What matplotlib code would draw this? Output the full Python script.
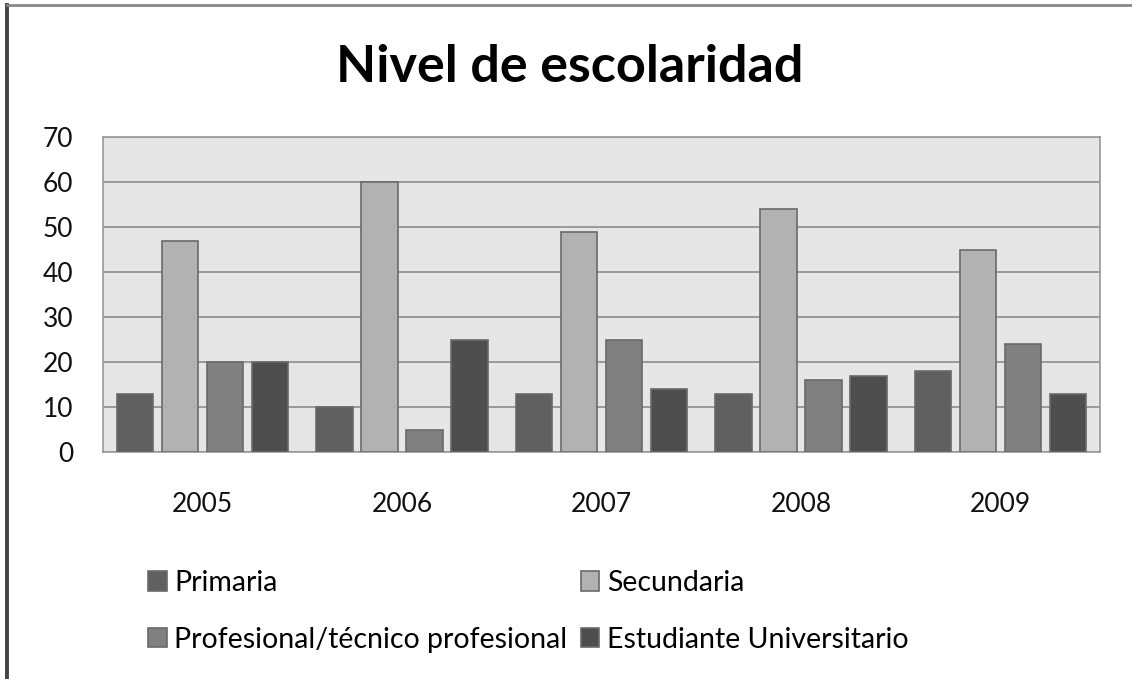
import numpy as np
import matplotlib
matplotlib.use("Agg")
import matplotlib.pyplot as plt
from matplotlib.lines import Line2D

plt.rcParams['font.family'] = ['Lato', 'DejaVu Sans']

years = ['2005', '2006', '2007', '2008', '2009']
series_names = ['Primaria', 'Secundaria', 'Profesional/técnico profesional', 'Estudiante Universitario']
primaria = [13, 10, 13, 13, 18]
secundaria = [47, 60, 49, 54, 45]
profesional = [20, 5, 25, 16, 24]
universitario = [20, 25, 14, 17, 13]
series = [primaria, secundaria, profesional, universitario]
colors = ['#606060', '#b2b2b2', '#808080', '#4e4e4e']

W, H = 1132, 679
fig = plt.figure(figsize=(W / 100, H / 100), dpi=100)
ax = fig.add_axes([103 / W, 1 - 452 / H, 997 / W, 315 / H])

# outer chart frame: only the left and top edges show in the original
fig.add_artist(Line2D([7 / W, 7 / W], [0, 1 - 5 / H], transform=fig.transFigure,
                      color='#444444', linewidth=2.8))
fig.add_artist(Line2D([7 / W, 1], [1 - 5 / H, 1 - 5 / H], transform=fig.transFigure,
                      color='#888888', linewidth=2))

x = np.arange(len(years))
step = 0.2257
width = 0.183
for i, (vals, name, c) in enumerate(zip(series, series_names, colors)):
    ax.bar(x + (i - 1.5) * step, vals, width, color=c, edgecolor='#6a6a6a', linewidth=1.2,
           label=name, zorder=3)

ax.set_xlim(-0.5, 4.5)
ax.set_ylim(0, 70)
ax.set_yticks(range(0, 71, 10))
ax.set_facecolor('#e6e6e6')
ax.grid(axis='y', color='#8c8c8c', linewidth=1.2, zorder=1)
for s in ax.spines.values():
    s.set_color('#999999')
    s.set_linewidth(1.2)
ax.set_xticks(x)
ax.set_xticklabels(years)
ax.tick_params(axis='both', length=0, labelsize=19, colors='#111111')
ax.tick_params(axis='y', pad=21.5)
ax.tick_params(axis='x', pad=28.5)

fig.text(0.503, 1 - 68 / H, 'Nivel de escolaridad', ha='center', va='center',
         fontsize=37.5, fontweight='bold')

# legend reads row by row: Primaria, Secundaria / Profesional, Universitario
handles, labels = ax.get_legend_handles_labels()
order = [0, 2, 1, 3]
fig.legend([handles[k] for k in order], [labels[k] for k in order], ncol=2,
           loc='upper left', bbox_to_anchor=(148 / W, 1 - 570 / H),
           frameon=False, fontsize=20.5, handlelength=0.65, handleheight=0.65,
           handletextpad=0.28, columnspacing=0.46, labelspacing=1.08,
           borderpad=0, borderaxespad=0)

fig.savefig('out.png', dpi=100)
